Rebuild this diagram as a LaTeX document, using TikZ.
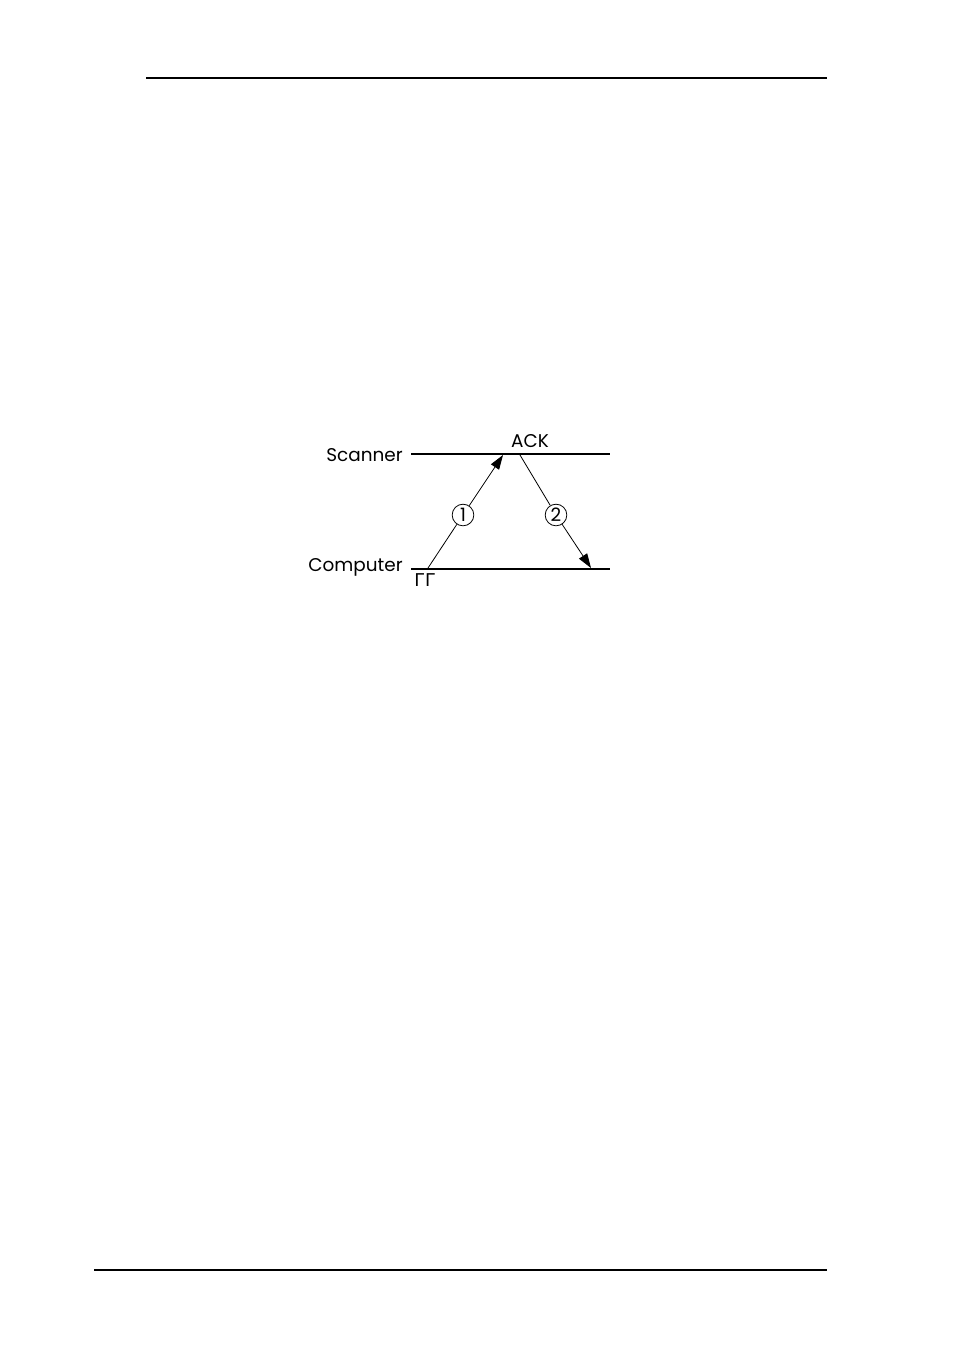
\documentclass[tikz,border=0pt]{standalone}
\usepackage{fontspec}
\setmainfont{Poppins}
\newfontfamily\greekfont{DejaVu Sans}
\usetikzlibrary{arrows.meta}

\begin{document}
\begin{tikzpicture}[x=0.624pt, y=-0.624pt, font=\fontsize{11.5}{13}\selectfont]
        	\useasboundingbox (0,0) rectangle (954,1365);
        	\draw[black, line width=1pt] (146,78) -- (827,78);
        	\draw[black, line width=1pt] (94,1270) -- (827,1270);
        	\node[anchor=east, inner sep=0] (A) at (403, 455) {Scanner};
        	\node[anchor=east, inner sep=0] (B) at (403, 567) {Computer};
        	\draw[black, line width=0.9pt] (411,454) -- (610,454);
        	\draw[black, line width=0.9pt] (411,569) -- (610,569);
        	\node (C) at (530, 441) {ACK};
        	\node (D) at (425, 580) {\greekfont\fontsize{11}{12}\selectfont ГГ};
        	\node[draw, circle, inner sep=0, minimum size=13.5pt, line width=0.5pt] (E) at (463, 515) {1};
        	\node[draw, circle, inner sep=0, minimum size=13.5pt, line width=0.5pt] (F) at (556, 515) {2};
        	\coordinate (G) at (428, 568);
        	\coordinate (H) at (503, 455);
        	\coordinate (I) at (520, 455);
        	\coordinate (J) at (591, 568);
        	\draw[line width=0.5pt] (G) -- (E);
        	\draw[-{Triangle[length=9pt, width=6pt]}, line width=0.5pt] (E) -- (H);
        	\draw[line width=0.5pt] (I) -- (F);
        	\draw[-{Triangle[length=9pt, width=6pt]}, line width=0.5pt] (F) -- (J);
    	\end{tikzpicture}
\end{document}
